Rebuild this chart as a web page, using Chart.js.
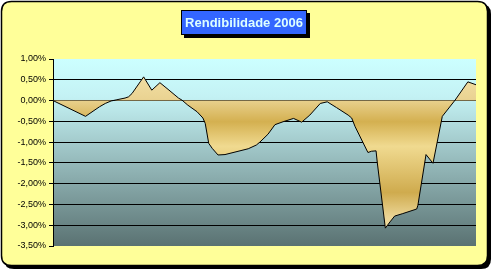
<!DOCTYPE html>
<html>
<head>
<meta charset="utf-8">
<script src="https://cdn.jsdelivr.net/npm/chart.js@4/dist/chart.umd.min.js"></script>
<style>
  html, body { margin: 0; padding: 0; background: #fff; }
  #wrap { width: 493px; height: 272px; }
</style>
</head>
<body>
<div id="wrap"><canvas id="grafRend" width="493" height="272"></canvas></div>
<script>
// dados (dia do ano, rendibilidade em %)
const titulo = 'Rendibilidade 2006';
const dias = [0, 28, 40, 45, 50, 55, 62, 65, 68, 75, 78, 85, 92, 99, 108, 111, 116, 124, 129, 131,
  134, 137, 142, 148, 168, 175, 178, 185, 191, 198, 207, 214, 221, 230, 236, 244, 254, 257, 260, 271,
  274, 278, 279, 286, 290, 294, 301, 313, 314, 321, 327, 335, 346, 357, 364];
const rendibilidade = [0.00, -0.38, -0.15, -0.07, -0.01, 0.02, 0.06, 0.09, 0.17, 0.45, 0.57, 0.25, 0.43, 0.27, 0.06, 0.01, -0.11, -0.27, -0.42, -0.55,
  -1.03, -1.15, -1.31, -1.30, -1.16, -1.07, -1.00, -0.81, -0.58, -0.51, -0.43, -0.52, -0.35, -0.07, -0.03, -0.17, -0.35, -0.42, -0.63, -1.25,
  -1.22, -1.21, -1.48, -3.07, -2.92, -2.78, -2.72, -2.61, -2.52, -1.30, -1.51, -0.38, 0.01, 0.45, 0.38];
const ticksY = [1.0, 0.5, 0.0, -0.5, -1.0, -1.5, -2.0, -2.5, -3.0, -3.5];

function rectArredondado(ctx, x, y, w, h, r) {
  ctx.beginPath();
  ctx.moveTo(x + r, y);
  ctx.lineTo(x + w - r, y);
  ctx.quadraticCurveTo(x + w, y, x + w, y + r);
  ctx.lineTo(x + w, y + h - r);
  ctx.quadraticCurveTo(x + w, y + h, x + w - r, y + h);
  ctx.lineTo(x + r, y + h);
  ctx.quadraticCurveTo(x, y + h, x, y + h - r);
  ctx.lineTo(x, y + r);
  ctx.quadraticCurveTo(x, y, x + r, y);
  ctx.closePath();
}

// fundo amarelo, área do gráfico em degradê e caixa do título
const fundo = {
  id: 'fundo',
  beforeDraw(chart) {
    const ctx = chart.ctx;
    const a = chart.chartArea;
    ctx.save();
    rectArredondado(ctx, 4, 4, 487, 265, 10);
    ctx.fillStyle = '#000';
    ctx.fill();
    rectArredondado(ctx, 1.5, 1.5, 486, 264, 10);
    ctx.fillStyle = '#FFFF99';
    ctx.fill();
    ctx.lineWidth = 1.5;
    ctx.strokeStyle = '#000';
    ctx.stroke();

    const g = ctx.createLinearGradient(0, a.top, 0, a.bottom);
    g.addColorStop(0, '#CCFFFF');
    g.addColorStop(0.2, '#C4F2F4');
    g.addColorStop(1, '#5A7272');
    ctx.fillStyle = g;
    ctx.fillRect(a.left, a.top, a.right - a.left, a.bottom - a.top);
    ctx.restore();
  },
  afterDraw(chart) {
    const ctx = chart.ctx;
    ctx.save();
    ctx.fillStyle = '#000';
    ctx.fillRect(184, 13, 126, 25);
    ctx.fillStyle = '#3366FF';
    ctx.fillRect(181, 10, 126, 25);
    ctx.strokeStyle = '#000';
    ctx.lineWidth = 1;
    ctx.strokeRect(181.5, 10.5, 125, 24);
    ctx.fillStyle = '#DDFFFF';
    ctx.font = 'bold 13px "Liberation Sans", Arial, sans-serif';
    ctx.textAlign = 'center';
    ctx.textBaseline = 'middle';
    ctx.fillText(titulo, 244, 23);
    ctx.restore();
  }
};

function preenchimentoOuro(context) {
  const chart = context.chart;
  const a = chart.chartArea;
  if (!a) return '#E6CC80';
  const y = chart.scales.y;
  const p0 = y.getPixelForValue(0.6);
  const p1 = y.getPixelForValue(-3.1);
  const g = chart.ctx.createLinearGradient(0, p0, 0, p1);
  g.addColorStop(0.00, '#F2DFA4');
  g.addColorStop(0.15, '#EAD392');
  g.addColorStop(0.30, '#D4B050');
  g.addColorStop(0.46, '#F0DA90');
  g.addColorStop(0.76, '#CFAB4E');
  g.addColorStop(0.92, '#EBD595');
  g.addColorStop(1.00, '#F0DCA0');
  return g;
}

const ctx = document.getElementById('grafRend').getContext('2d');
const grafico = new Chart(ctx, {
  type: 'line',
  data: {
    datasets: [{
      data: dias.map((d, i) => ({ x: d, y: rendibilidade[i] })),
      borderColor: '#000',
      borderWidth: 1,
      pointRadius: 0,
      tension: 0,
      fill: 'origin',
      backgroundColor: preenchimentoOuro
    }]
  },
  options: {
    responsive: false,
    animation: false,
    layout: { padding: { top: 59, right: 17, bottom: 26, left: 0 } },
    plugins: { legend: { display: false }, tooltip: { enabled: false } },
    scales: {
      x: {
        type: 'linear',
        min: 0,
        max: 364,
        display: false
      },
      y: {
        min: -3.5,
        max: 1,
        afterFit(scale) { scale.width = 53; },
        afterBuildTicks(scale) { scale.ticks = ticksY.map(v => ({ value: v })); },
        ticks: {
          color: '#000',
          padding: 3,
          font: { family: '"Liberation Sans", Arial, sans-serif', size: 9 },
          callback: v => v.toFixed(2).replace('.', ',') + '%'
        },
        grid: {
          drawTicks: true,
          tickLength: 4,
          tickColor: '#000',
          lineWidth: 1,
          color: c => (c.tick && (c.tick.value === 1 || c.tick.value === -3.5)) ? 'rgba(0,0,0,0)' : '#000'
        },
        border: { display: true, color: '#000', width: 1 }
      }
    }
  },
  plugins: [fundo]
});
</script>
</body>
</html>
